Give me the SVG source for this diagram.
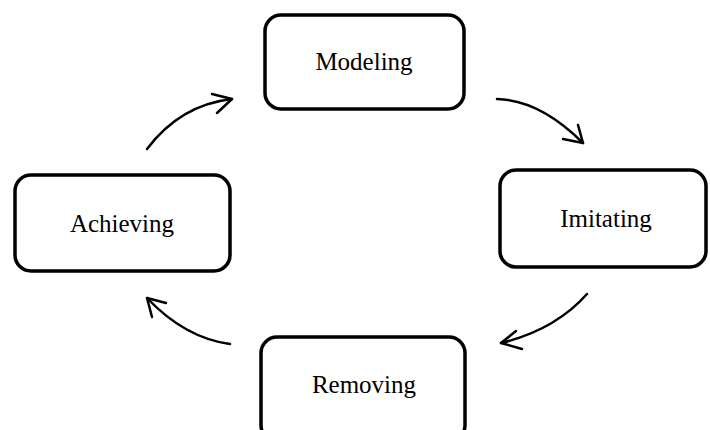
<svg xmlns="http://www.w3.org/2000/svg" width="710" height="430" viewBox="0 0 710 430">
<style>
.box{fill:#fff;stroke:#000;stroke-width:3.5}
.lbl{font-family:"Liberation Serif","Times New Roman",serif;font-size:25px;fill:#000;text-anchor:middle}
.con{fill:none;stroke:#000;stroke-width:2.5;stroke-linecap:round;stroke-linejoin:round}
</style>
<rect width="710" height="430" fill="#fff"/>
<g id="modeling">
<rect class="box" x="265" y="15" width="199" height="94" rx="16"/>
<text class="lbl" x="364" y="70">Modeling</text>
</g>
<g id="imitating">
<rect class="box" x="500" y="170" width="206" height="97" rx="16"/>
<text class="lbl" x="606" y="227">Imitating</text>
</g>
<g id="achieving">
<rect class="box" x="15" y="175" width="215" height="96" rx="16"/>
<text class="lbl" x="122" y="232">Achieving</text>
</g>
<g id="removing">
<rect class="box" x="261" y="337" width="204" height="104" rx="16"/>
<text class="lbl" x="364" y="393">Removing</text>
</g>
<g id="connectors">
<path class="con" d="M147,149 Q180,105 232,99"/>
<path class="con" d="M212,94 L232,99 L217,113"/>
<path class="con" d="M497,99 Q540,100 583,143"/>
<path class="con" d="M563,139 L583,143 L578,125"/>
<path class="con" d="M587,294 Q555,330 501,343"/>
<path class="con" d="M516,331 L501,343 L522,349"/>
<path class="con" d="M230,344 Q185,338 147,298"/>
<path class="con" d="M166,303 L147,298 L152,317"/>
</g>
</svg>
